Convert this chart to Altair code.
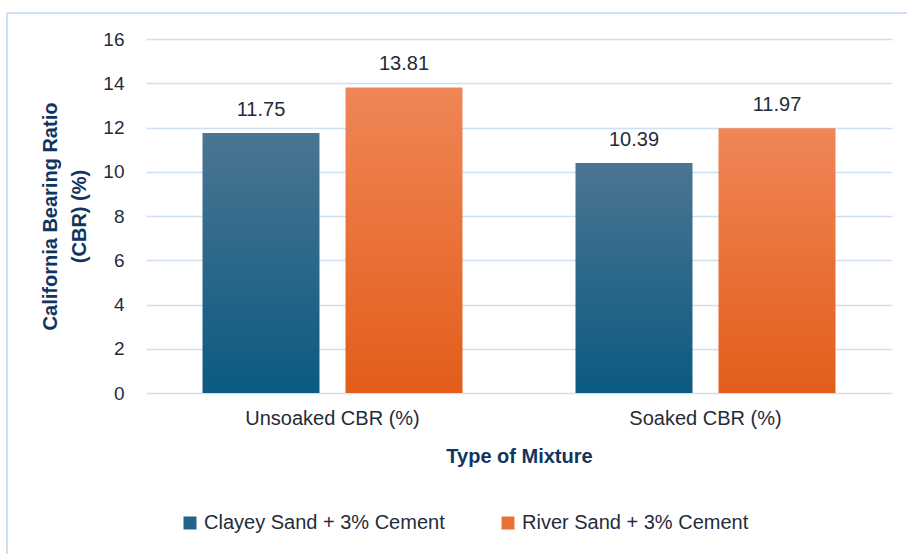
import altair as alt
import pandas as pd

categories = ["Unsoaked CBR (%)", "Soaked CBR (%)"]
series = ["Clayey Sand + 3% Cement", "River Sand + 3% Cement"]
clayey_values = [11.75, 10.39]
river_values = [13.81, 11.97]
y_ticks = [0, 2, 4, 6, 8, 10, 12, 14, 16]

rows = []
for i, c in enumerate(categories):
    rows.append({"category": c, "series": series[0], "value": clayey_values[i]})
    rows.append({"category": c, "series": series[1], "value": river_values[i]})
df = pd.DataFrame(rows)

FONT = "Liberation Sans"
TEXT = "#1f2c3b"
TITLE = "#12355f"
GRID = "#cfe0f2"

blue_grad = alt.LinearGradient(
    gradient="linear", x1=0, y1=0, x2=0, y2=1,
    stops=[alt.GradientStop(color="#4b7592", offset=0),
           alt.GradientStop(color="#0b5a80", offset=1)])
orange_grad = alt.LinearGradient(
    gradient="linear", x1=0, y1=0, x2=0, y2=1,
    stops=[alt.GradientStop(color="#ef8657", offset=0),
           alt.GradientStop(color="#e35d1a", offset=1)])

x_enc = alt.X("category:N", sort=categories,
              scale=alt.Scale(paddingInner=0.303, paddingOuter=0.1515),
              axis=alt.Axis(title="Type of Mixture", labelAngle=0, labelFontSize=20,
                            labelColor=TEXT, labelFont=FONT, labelPadding=15,
                            ticks=False, tickSize=0, domain=False,
                            titleFont=FONT, titleFontSize=20, titleFontWeight="bold",
                            titleColor=TITLE, titleY=63, titleBaseline="middle"))
xo_enc = alt.XOffset("series:N", sort=series,
                     scale=alt.Scale(domain=series, paddingInner=0.182, paddingOuter=0))
y_enc = alt.Y("value:Q",
              scale=alt.Scale(domain=[0, 16], nice=False),
              axis=alt.Axis(values=y_ticks, title=["California Bearing Ratio", "(CBR) (%)"],
                            labelFontSize=19, labelColor=TEXT, labelFont=FONT,
                            labelPadding=22, ticks=False, tickSize=0, domain=False,
                            gridColor=GRID, gridWidth=1.5,
                            titleFont=FONT, titleFontSize=20, titleFontWeight="bold",
                            titleColor=TITLE, titleAngle=-90, titleX=-106, titleY=177,
                            titleAlign="center", titleBaseline="top", titleLineHeight=29))

base = alt.Chart(df)

bars_blue = base.transform_filter(alt.datum.series == series[0]).mark_bar(
    fill=blue_grad).encode(x=x_enc, xOffset=xo_enc, y=y_enc)
bars_orange = base.transform_filter(alt.datum.series == series[1]).mark_bar(
    fill=orange_grad).encode(x=x_enc, xOffset=xo_enc, y=y_enc)

legend_layer = base.mark_bar(opacity=0).encode(
    x=x_enc, xOffset=xo_enc, y=y_enc,
    color=alt.Color("series:N", sort=series,
                    scale=alt.Scale(domain=series, range=["#22658a", "#ea7033"]),
                    legend=alt.Legend(title=None, orient="none", direction="horizontal",
                                      legendX=34, legendY=474, labelFontSize=20,
                                      labelFont=FONT, labelColor=TEXT, symbolType="square",
                                      symbolSize=169, symbolStrokeWidth=0, symbolOpacity=1,
                                      columnPadding=53, labelOffset=4, labelLimit=400)))

labels = base.mark_text(fontSize=20, font=FONT, color=TEXT, baseline="alphabetic", dy=-17).encode(
    x=x_enc, xOffset=xo_enc, y=y_enc,
    text=alt.Text("value:Q", format=".2f"))

frame_data = alt.Data(values=[{"a": 1}])
frame_top = alt.Chart(frame_data).mark_rule(color=GRID, strokeWidth=2).encode(
    x=alt.value(-139), x2=alt.value(770), y=alt.value(-26))
frame_left = alt.Chart(frame_data).mark_rule(color=GRID, strokeWidth=2).encode(
    x=alt.value(-139), y=alt.value(-26), y2=alt.value(520))

chart = alt.layer(frame_top, frame_left, legend_layer, bars_blue, bars_orange, labels).properties(
    width=746, height=354,
    autosize=alt.AutoSizeParams(type="none"),
    padding={"left": 146, "top": 39, "right": 15, "bottom": 161},
    background="white",
).configure_view(stroke=None)

chart.save("out.html", embed_options={"renderer": "svg", "actions": False})
